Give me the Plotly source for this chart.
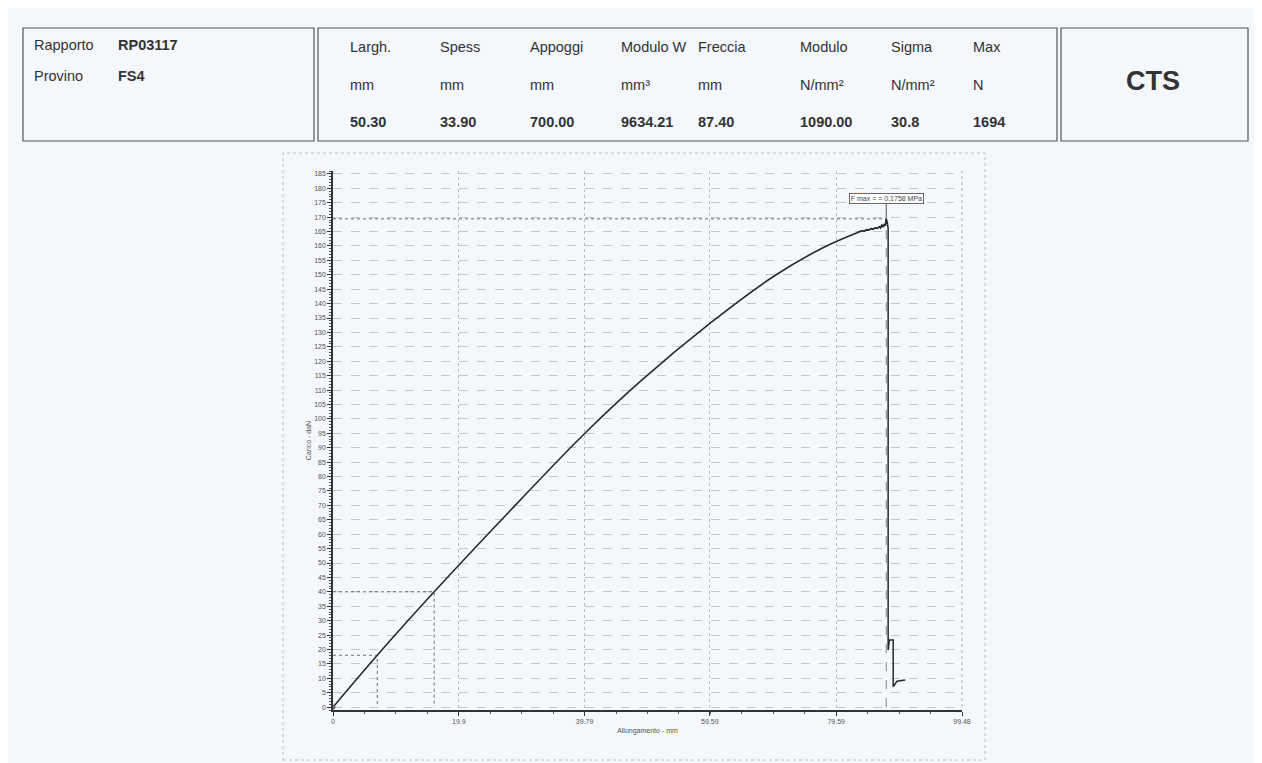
import plotly.graph_objects as go

# ---------------- data ----------------
# rising branch (smooth part)
x_rise = [0.0, 7.0, 16.0, 26.4, 39.6, 48.6, 59.7, 69.6, 77.5, 82.9]
load_rise = [0.0, 18.0, 40.0, 64.4, 94.5, 113.0, 133.3, 149.3, 159.4, 164.6]
# noisy plateau near the maximum
x_plateau = [82.9, 83.3, 83.7, 84.0, 84.4, 84.7, 85.1, 85.4, 85.8, 86.1, 86.4, 86.6,
             86.8, 87.0, 87.2, 87.35, 87.5, 87.7]
load_plateau = [164.6, 164.9, 165.3, 165.1, 165.6, 165.5, 166.0, 165.8, 166.3, 166.1,
                166.7, 166.3, 167.2, 166.6, 167.6, 167.0, 169.4, 167.6]
# drop after failure
x_drop = [87.7, 87.8, 87.8, 88.0, 88.6, 88.6, 88.7, 89.2, 89.8, 90.5]
load_drop = [167.6, 166.0, 19.8, 23.3, 23.3, 7.3, 7.4, 9.0, 9.3, 9.4]

guide_x = [7.0, 16.0]          # vertical guide positions (mm)
guide_y = [18.0, 40.0]         # horizontal guide levels (daN)
peak_x = 87.5
peak_y = 169.4
peak_label = "F max = = 0.1758 MPa"

x_ticks = [0, 19.9, 39.79, 59.59, 79.59, 99.48]
x_tick_text = ["0", "19.9", "39.79", "59.59", "79.59", "99.48"]
y_ticks = list(range(0, 186, 5))

report_labels = ["Rapporto", "Provino"]
report_values = ["RP03117", "FS4"]
col_headers = ["Largh.", "Spess", "Appoggi", "Modulo W", "Freccia", "Modulo", "Sigma", "Max"]
col_units = ["mm", "mm", "mm", "mm³", "mm", "N/mm²", "N/mm²", "N"]
col_values = ["50.30", "33.90", "700.00", "9634.21", "87.40", "1090.00", "30.8", "1694"]
lab_name = "CTS"

# ---------------- layout helpers ----------------
OFF = 8  # page body margin
W, H = 1262 - OFF, 763 - OFF
L, R, T, B = 333 - OFF, 300, 171 - OFF, 53
PW, PH = W - L - R, H - T - B


def px(xp):
    return (xp - OFF - L) / PW


def py(yp):
    return (H - B - (yp - OFF)) / PH


BG = "#f4f7fc"
INK = "#2a2a2a"
FONT = "Liberation Sans, Arial, sans-serif"

fig = go.Figure()

# guide lines (drawn from data values)
for gx, gy in zip(guide_x, guide_y):
    fig.add_trace(go.Scatter(x=[0, gx, gx], y=[gy, gy, 0], mode="lines",
                             line=dict(color="#4a4a4a", width=0.8, dash="dot"),
                             hoverinfo="skip", showlegend=False))
fig.add_trace(go.Scatter(x=[0, peak_x], y=[peak_y, peak_y], mode="lines",
                         line=dict(color="#4a4a4a", width=0.8, dash="dot"),
                         hoverinfo="skip", showlegend=False))
fig.add_trace(go.Scatter(x=[peak_x, peak_x], y=[0, peak_y], mode="lines",
                         line=dict(color="#666666", width=0.8, dash="dash"),
                         hoverinfo="skip", showlegend=False))

# main curve
fig.add_trace(go.Scatter(x=x_rise, y=load_rise, mode="lines", line_shape="spline",
                         line=dict(color=INK, width=1.6, smoothing=1.0), showlegend=False))
fig.add_trace(go.Scatter(x=x_plateau, y=load_plateau, mode="lines",
                         line=dict(color=INK, width=1.8), showlegend=False))
fig.add_trace(go.Scatter(x=x_drop, y=load_drop, mode="lines",
                         line=dict(color=INK, width=1.5), showlegend=False))

# origin marker
fig.add_trace(go.Scatter(x=[0], y=[0], mode="markers",
                         marker=dict(color="#666666", size=5), showlegend=False))

# peak annotation with leader line
fig.add_annotation(x=peak_x, y=peak_y, ax=peak_x, ay=176.5, axref="x", ayref="y",
                   xref="x", yref="y", text=peak_label, showarrow=True,
                   arrowhead=0, arrowwidth=0.8, arrowcolor=INK,
                   font=dict(size=7, color="#444444", family=FONT),
                   bgcolor="white", bordercolor="#444444", borderwidth=0.8, borderpad=1)

fig.update_xaxes(range=[0, 99.48], tickmode="array", tickvals=x_ticks, ticktext=x_tick_text,
                 showgrid=True, gridcolor="#b9bcc2", griddash="dot", gridwidth=0.8,
                 zeroline=False, showline=True, linecolor="#333333", linewidth=1.5,
                 ticks="outside", ticklen=4, tickcolor="#333333",
                 tickfont=dict(size=7, color="#555555", family=FONT),
                 minor=dict(dtick=99.48 / 20, ticks="outside", ticklen=2, tickcolor="#555555",
                            showgrid=False),
                 title=dict(text="Allungamento - mm", font=dict(size=7, color="#555555", family=FONT),
                            standoff=4))
fig.update_yaxes(range=[-1, 186], tickmode="array", tickvals=y_ticks,
                 showgrid=True, gridcolor="#c4c7cc", griddash="dash", gridwidth=0.7,
                 zeroline=False, showline=True, linecolor="#333333", linewidth=1.5,
                 ticks="outside", ticklen=4, tickcolor="#333333",
                 tickfont=dict(size=7, color="#555555", family=FONT),
                 minor=dict(dtick=1, ticks="outside", ticklen=2, tickcolor="#555555", showgrid=False),
                 title=dict(text="Carico - daN", font=dict(size=7, color="#555555", family=FONT),
                            standoff=2))

shapes = []
# header boxes
for (x0, x1) in [(23, 314), (318, 1057), (1061, 1248)]:
    shapes.append(dict(type="rect", xref="paper", yref="paper",
                       x0=px(x0), x1=px(x1), y0=py(141), y1=py(28),
                       line=dict(color="#555555", width=1.2), fillcolor="rgba(0,0,0,0)", layer="above"))
# chart frame
shapes.append(dict(type="rect", xref="paper", yref="paper",
                   x0=px(283), x1=px(985), y0=py(760), y1=py(153),
                   line=dict(color="#b0b3b8", width=0.8, dash="dot"), layer="below"))
# right vertical dotted edge
shapes.append(dict(type="line", xref="paper", yref="paper",
                   x0=1, x1=1, y0=py(707), y1=py(171),
                   line=dict(color="#9a9da2", width=0.8, dash="dot")))

annotations = []


def txt(x, y, s, size=14.5, bold=False, anchor="left"):
    annotations.append(dict(xref="paper", yref="paper", x=px(x), y=py(y), text=(f"<b>{s}</b>" if bold else s),
                            showarrow=False, xanchor=anchor, yanchor="middle",
                            font=dict(size=size, color="#333333", family=FONT)))


rows_y = [45, 76]
for lab, val, yy in zip(report_labels, report_values, rows_y):
    txt(32, yy, lab)
    txt(116, yy, val, bold=True)

col_x = [348, 438, 528, 619, 696, 798, 889, 971]
for cx, h_, u_, v_ in zip(col_x, col_headers, col_units, col_values):
    txt(cx, 47, h_)
    txt(cx, 85, u_)
    txt(cx, 122, v_, bold=True)

txt(1153, 81, lab_name, size=27, bold=True, anchor="center")

fig.update_layout(width=W, height=H, margin=dict(l=L, r=R, t=T, b=B),
                  paper_bgcolor=BG, plot_bgcolor=BG, shapes=shapes,
                  font=dict(family=FONT))
for a in annotations:
    fig.add_annotation(**a)

fig.write_html("out.html")
